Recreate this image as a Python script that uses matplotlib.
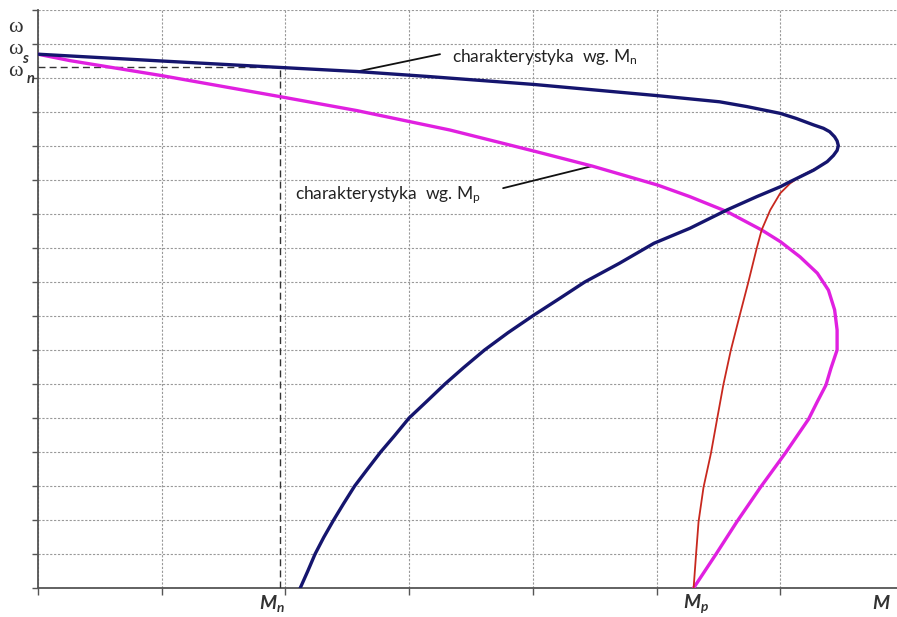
import matplotlib
matplotlib.use("Agg")
import matplotlib.pyplot as plt

# ---- data (M in grid units, omega in grid units) ----
blue_M = [0.00, 1.00, 1.96, 2.58, 3.17, 4.01, 5.01, 5.51, 5.73, 6.00, 6.13, 6.27, 6.35, 6.40, 6.44, 6.46, 6.47,
          6.46, 6.43, 6.38, 6.27, 6.08, 6.00, 5.81, 5.57, 5.27, 4.98, 4.70, 4.42, 4.21, 4.01, 3.80, 3.61,
          3.44, 3.29, 3.14, 3.00, 2.88, 2.77, 2.66, 2.56, 2.47, 2.39, 2.31, 2.24, 2.18, 2.12]
blue_w = [15.70, 15.50, 15.31, 15.19, 15.04, 14.81, 14.48, 14.30, 14.16, 13.96, 13.81, 13.62, 13.52, 13.42, 13.27, 13.15, 13.01,
          12.87, 12.72, 12.54, 12.29, 11.95, 11.80, 11.51, 11.12, 10.58, 10.14, 9.55, 9.00, 8.50, 8.03, 7.51, 7.00,
          6.48, 6.00, 5.48, 5.00, 4.47, 4.00, 3.48, 3.00, 2.48, 2.00, 1.49, 1.00, 0.49, 0.00]

mag_M = [0.00, 0.26, 1.00, 1.96, 2.58, 3.33, 4.01, 4.48, 5.01, 5.27, 5.57, 5.85, 6.00, 6.16, 6.30, 6.39,
         6.44, 6.46, 6.46, 6.41, 6.37, 6.30, 6.23, 6.04, 5.84, 5.65, 5.48, 5.30]
mag_w = [15.70, 15.51, 15.07, 14.45, 14.04, 13.47, 12.85, 12.41, 11.85, 11.51, 11.07, 10.53, 10.19, 9.74, 9.26, 8.76,
         8.18, 7.59, 7.00, 6.46, 5.97, 5.48, 4.97, 3.96, 2.96, 1.95, 0.99, 0.00]

red_M = [5.30, 5.32, 5.34, 5.38, 5.44, 5.49, 5.54, 5.60, 5.67, 5.74, 5.81, 5.85, 5.92, 6.00, 6.08, 6.16, 6.27]
red_w = [0.00, 1.00, 1.95, 2.96, 3.96, 4.97, 5.97, 6.98, 7.98, 8.96, 9.99, 10.53, 11.12, 11.61, 11.90, 12.10, 12.31]

M_n = 1.96
M_p = 5.30
w_n = 15.31
w_s = 15.70

plt.rcParams['mathtext.fontset'] = 'custom'
plt.rcParams['mathtext.rm'] = 'Lato'
plt.rcParams['mathtext.it'] = 'Lato:italic:bold'
plt.rcParams['mathtext.bf'] = 'Lato:bold'

fig = plt.figure(figsize=(8.97, 6.17), dpi=100)
W, H = 897, 617
ax = fig.add_axes([38 / W, (H - 588) / H, (W - 38) / W, (588 - 10) / H])
ax.set_xlim(0, (W - 38) / 123.7)
ax.set_ylim(0, 17)

ax.set_xticks(range(0, 7))
ax.set_yticks(range(0, 18))
ax.set_xticklabels([])
ax.set_yticklabels([])
ax.tick_params(axis='x', length=5, width=1, color='#555555', direction='out')
ax.tick_params(axis='y', length=4, width=1, color='#555555', direction='out')
ax.grid(True, color='#999999', linestyle=(0, (2, 1.5)), linewidth=0.8)
ax.set_axisbelow(True)
for s in ['top', 'right']:
    ax.spines[s].set_visible(False)
for s in ['left', 'bottom']:
    ax.spines[s].set_color('#555555')
    ax.spines[s].set_linewidth(1.3)

# dashed guide lines for nominal point
ax.plot([0, M_n], [w_n, w_n], color='#333333', linestyle=(0, (5, 3)), linewidth=1.0, zorder=3)
ax.plot([M_n, M_n], [0, w_n], color='#333333', linestyle=(0, (5, 3)), linewidth=1.0, zorder=3)

ax.plot(mag_M, mag_w, color='#e020e0', linewidth=2.4, zorder=4, solid_joinstyle='round')
ax.plot(red_M, red_w, color='#c8281e', linewidth=1.3, zorder=5, solid_joinstyle='round')
ax.plot(blue_M, blue_w, color='#15156e', linewidth=2.4, zorder=6, solid_joinstyle='round')

# annotations
ax.text(3.35, 15.62, 'charakterystyka  wg. M$_{\\mathrm{n}}$', fontsize=12.5, family='Lato',
        color='#222222', va='center', ha='left', zorder=7)
ax.annotate('', xy=(2.58, 15.19), xytext=(3.25, 15.70),
            arrowprops=dict(arrowstyle='-', color='#111111', lw=1.3, shrinkA=0, shrinkB=0))
ax.text(2.08, 11.56, 'charakterystyka  wg. M$_{\\mathrm{p}}$', fontsize=12.5, family='Lato',
        color='#222222', va='center', ha='left', zorder=7)
ax.annotate('', xy=(4.48, 12.41), xytext=(3.76, 11.76),
            arrowprops=dict(arrowstyle='-', color='#111111', lw=1.3, shrinkA=0, shrinkB=0))

# axis labels below x-axis
for xv, lab in [(M_n - 0.07, '$M_n$'), (M_p + 0.02, '$M_p$'), (6.82, '$M$')]:
    ax.text(xv, -0.45, lab, fontsize=14, color='#333333', ha='center', va='center', clip_on=False)

# omega labels left of y-axis
for yy in (27, 50, 72):
    fig.text(15 / W, 1 - yy / H, 'ω', family='Liberation Serif', fontsize=16, color='#333333',
             ha='center', va='center')
fig.text(25.5 / W, 1 - 59 / H, 's', family='Lato', style='italic', weight='bold', fontsize=10.5,
         color='#333333', ha='center', va='center')
fig.text(31 / W, 1 - 79 / H, 'n', family='Lato', style='italic', weight='bold', fontsize=10.5,
         color='#333333', ha='center', va='center')

fig.savefig('out.png', dpi=100)
